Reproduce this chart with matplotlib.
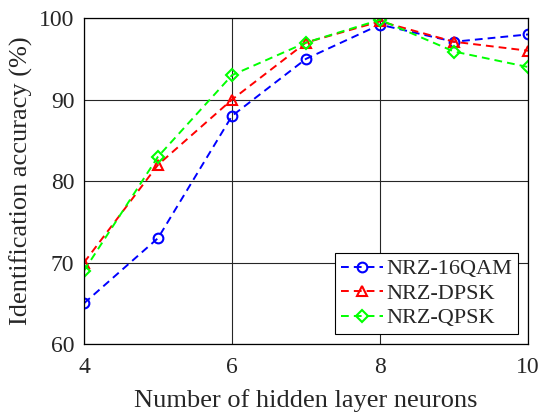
import matplotlib
matplotlib.use('Agg')
import matplotlib.pyplot as plt

neurons = [4, 5, 6, 7, 8, 9, 10]
acc_16qam = [65, 73, 88, 95, 99.2, 97.1, 98]
acc_dpsk = [70, 82, 90, 97, 99.6, 97.1, 96]
acc_qpsk = [69, 83, 93, 97, 99.8, 95.9, 94]

plt.rcParams['font.family'] = 'Liberation Serif'
plt.rcParams['mathtext.fontset'] = 'stix'

fig = plt.figure(figsize=(5.41, 4.12), dpi=100)
ax = fig.add_axes([0.1553, 0.165, 0.8207, 0.791])

style = dict(lw=1.4, mfc='none', mew=1.5, dashes=(4, 2.6))
ax.plot(neurons, acc_16qam, marker='o', color='#0000ff', ms=7, label='NRZ-16QAM', **style)
ax.plot(neurons, acc_dpsk, marker='^', color='#ff0000', ms=7.5, label='NRZ-DPSK', **style)
ax.plot(neurons, acc_qpsk, marker='D', color='#00ff00', ms=6, label='NRZ-QPSK', **style)

ax.set_xlim(4, 10)
ax.set_ylim(60, 100)
ax.set_xticks([4, 6, 8, 10])
ax.set_yticks([60, 70, 80, 90, 100])
ax.grid(True, color='#262626', lw=0.8)
ax.set_axisbelow(True)
ax.tick_params(direction='in', labelsize=17, length=0, labelcolor='#262626')
ax.tick_params(axis='x', pad=9)
ax.tick_params(axis='y', pad=7)
for s in ax.spines.values():
    s.set_linewidth(0.9)

ax.set_xlabel('Number of hidden layer neurons', fontsize=19, color='#262626', labelpad=8)
ax.set_ylabel('Identification accuracy (%)', fontsize=19, color='#262626', labelpad=4)

leg = ax.legend(loc='lower right', fontsize=16, fancybox=False, framealpha=1,
                edgecolor='black', borderpad=0.25, labelspacing=0.18, handlelength=1.9,
                handletextpad=0.15, borderaxespad=0.45)
leg.get_frame().set_linewidth(0.8)
for t in leg.get_texts():
    t.set_color('#262626')

fig.savefig('out.png', dpi=100)
